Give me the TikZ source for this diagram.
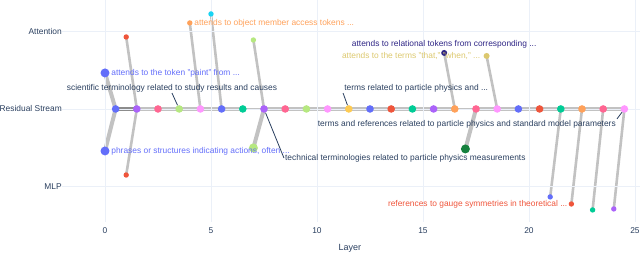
\documentclass[tikz,border=0pt]{standalone}
\usepackage{fontspec}
\setmainfont{Liberation Sans}
\usetikzlibrary{positioning}
\definecolor{plblue}{HTML}{636EFA}
\definecolor{plred}{HTML}{EF553B}
\definecolor{plgreen}{HTML}{00CC96}
\definecolor{plpurple}{HTML}{AB63FA}
\definecolor{plorange}{HTML}{FFA15A}
\definecolor{plcyan}{HTML}{19D3F3}
\definecolor{plpink}{HTML}{FF6692}
\definecolor{pllime}{HTML}{B6E880}
\definecolor{plmagenta}{HTML}{FF97FF}
\definecolor{plyellow}{HTML}{FECB52}
\definecolor{khaki}{HTML}{DCC86E}
\definecolor{indigo}{HTML}{2E2585}
\definecolor{dkgreen}{HTML}{15803D}
\definecolor{ink}{HTML}{2A3F5F}
\definecolor{gridc}{HTML}{EBF0F8}
\definecolor{stemgray}{HTML}{C2C2C2}
\definecolor{darkrail}{HTML}{8C8C8C}
\pgfdeclarelayer{bg}
\pgfsetlayers{bg,main}

\begin{document}
\begin{tikzpicture}[x=21.2pt,y=77.5pt,
  dot/.style={circle,fill=#1,inner sep=0pt,minimum size=7.6pt},
  bigdot/.style={circle,fill=#1,inner sep=0pt,minimum size=9pt},
  smalldot/.style={circle,fill=#1,inner sep=0pt,minimum size=5.4pt},
  rail/.style={stemgray,line width=4pt},
  stem/.style={stemgray,line width=2.6pt},
  fatstem/.style={stemgray,line width=4pt},
  note/.style={font=\fontsize{8.4}{10}\selectfont,text=ink,inner sep=1pt},
  pointer/.style={ink,line width=0.8pt},
  tick/.style={font=\fontsize{8.4}{10}\selectfont,text=ink,inner sep=0pt}]
  \useasboundingbox (-4.953,-1.884) rectangle (25.236,1.406);
  % grid
  \foreach \y in {1,0,-1}
    \draw[gridc,line width=0.8pt] (-2.03,\y) -- (25.236,\y);
  \foreach \x in {0,5,...,25}
    \draw[gridc,line width=0.8pt] (\x,1.406) -- (\x,-1.458);
  % axis labels
  \node[tick,anchor=east] (yatt) at (-2.03,1) {Attention};
  \node[tick,anchor=east] (yres) at (-2.03,0) {Residual Stream};
  \node[tick,anchor=east] (ymlp) at (-2.03,-1) {MLP};
  \foreach \x in {0,5,...,25}
    \node[tick] (x\x) at (\x,-1.574) {\x};
  \node[tick,font=\fontsize{9}{11}\selectfont] (xlab) at (11.55,-1.794) {Layer};

  % residual stream
  \foreach \c [count=\i from 0] in {plblue,plpurple,plpink,pllime,plmagenta,plblue,plgreen,plpurple,plpink,pllime,plmagenta,plyellow,plblue,plred,plgreen,plpurple,plorange,plpink,plmagenta,plblue,plred,plgreen,plorange,plpink,plmagenta}
    \node[dot=\c] (r\i) at (\i+0.5,0) {};

  % attention
  \node[bigdot=plblue] (a0) at (0,0.465) {};
  \node[smalldot=plred] (a1) at (1,0.929) {};
  \node[smalldot=plorange] (a4) at (4,1.110) {};
  \node[smalldot=plcyan] (a5) at (5,1.226) {};
  \node[smalldot=pllime] (a7) at (7,0.890) {};
  \node[smalldot=indigo,minimum size=6pt] (a16) at (16,0.723) {};
  \node[smalldot=khaki,minimum size=6pt] (a18) at (18,0.684) {};

  % mlp
  \node[bigdot=plblue] (m0) at (0,-0.542) {};
  \node[smalldot=plred] (m1) at (1,-0.852) {};
  \node[bigdot=pllime] (m7) at (7,-0.503) {};
  \node[bigdot=dkgreen] (m17) at (17,-0.516) {};
  \node[smalldot=plblue] (m21) at (21,-1.135) {};
  \node[smalldot=plred] (m22) at (22,-1.226) {};
  \node[smalldot=plgreen] (m23) at (23,-1.303) {};
  \node[smalldot=plpurple] (m24) at (24,-1.290) {};

  \begin{pgfonlayer}{bg}
    \foreach \i [evaluate=\i as \j using int(\i+1)] in {1,...,5,7,8,...,15,17,18,...,23}
      \draw[rail] (r\i.center) -- (r\j.center);
    \draw[rail,darkrail] (r0.center) -- (r1.center);
    \draw[rail,line width=2pt] (r6.center) -- (r7.center);
    \draw[rail,line width=2pt] (r16.center) -- (r17.center);
    \draw[fatstem] (a0.center) -- (r0.center);
    \draw[fatstem] (m0.center) -- (r0.center);
    \draw[fatstem] (m7.center) -- (r7.center);
    \draw[fatstem] (m17.center) -- (r17.center);
    \foreach \k in {1,4,5,7,16,18}
      \draw[stem] (a\k.center) -- (r\k.center);
    \foreach \k in {1,21,22,23,24}
      \draw[stem] (m\k.center) -- (r\k.center);
  \end{pgfonlayer}

  % node texts
  \node[note,text=plblue,right=0.5pt of a0] (ta0) {attends to the token "paint" from ...};
  \node[note,text=plblue,right=0.5pt of m0] (tm0) {phrases or structures indicating actions, often ...};
  \node[note,text=plorange,right=0.5pt of a4] (ta4) {attends to object member access tokens ...};
  \node[note,text=indigo] (ta16) at (16,0.839) {attends to relational tokens from corresponding ...};
  \node[note,text=khaki,left=2pt of a18] (ta18) {attends to the terms "that," "when," ...};
  \node[note,text=plred,left=0pt of m22] (tm22) {references to gauge symmetries in theoretical ...};

  % annotations on the stream
  \node[note] (tsci) at (3.16,0.271) {scientific terminology related to study results and causes};
  \node[note,anchor=west] (tpart) at (11.23,0.271) {terms related to particle physics and ...};
  \node[note,anchor=east] (tref) at (24.15,-0.194) {terms and references related to particle physics and standard model parameters};
  \node[note,anchor=west] (ttech) at (8.44,-0.632) {technical terminologies related to particle physics measurements};
  \draw[pointer] (tsci.south) -- (r3);
  \draw[pointer] (tpart.south west) -- (r11);
  \draw[pointer] (tref.north east) -- (r24);
  \draw[pointer] (ttech.west) -- (r7);
\end{tikzpicture}
\end{document}
